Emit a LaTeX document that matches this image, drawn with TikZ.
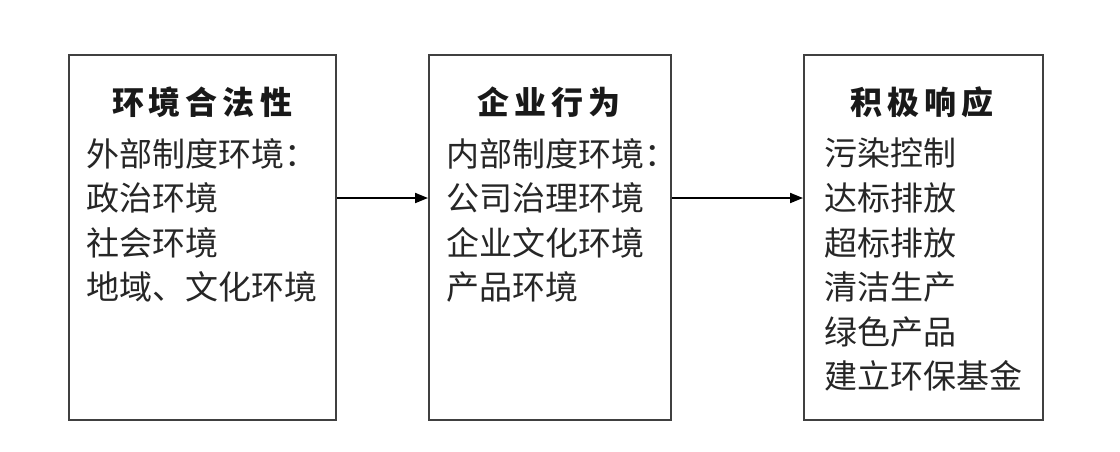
\documentclass[tikz,border=0pt]{standalone}
\usepackage{fontspec}
\newfontfamily\cjk{Noto Sans CJK SC}
\usetikzlibrary{arrows.meta}
\newcommand{\tsp}{\hspace{5pt}}
\tikzset{
  panel/.style={draw=black!75, line width=2pt, fill=white},
  ttl/.style={font=\cjk\bfseries\fontsize{32}{32}\selectfont, text=black!90, inner sep=0pt, anchor=center},
  body/.style={font=\cjk\fontsize{33}{44.6}\selectfont, text=black!85, inner sep=0pt, align=left, anchor=north west},
  flow/.style={line width=2pt, draw=black, -{Triangle[length=13pt,width=10pt]}}
}
\begin{document}
\begin{tikzpicture}[x=1pt,y=-1pt]
\useasboundingbox (0,0) rectangle (1120,451);
\node[panel, minimum width=267pt, minimum height=365pt, anchor=north west, inner sep=0pt] (b1) at (68,54) {};
\node[panel, minimum width=242pt, minimum height=365pt, anchor=north west, inner sep=0pt] (b2) at (428,54) {};
\node[panel, minimum width=239pt, minimum height=365pt, anchor=north west, inner sep=0pt] (b3) at (803,54) {};

\node[ttl] (t1) at (202,102) {环\tsp 境\tsp 合\tsp 法\tsp 性};
\node[ttl] (t2) at (549,102) {企\tsp 业\tsp 行\tsp 为};
\node[ttl] (t3) at (922,102) {积\tsp 极\tsp 响\tsp 应};

\node[body] (l1) at (86,138) {外部制度环境：\\政治环境\\社会环境\\地域、文化环境};
\node[body] (l2) at (446,138) {内部制度环境：\\公司治理环境\\企业文化环境\\产品环境};
\node[body] (l3) at (824,138) {污染控制\\达标排放\\超标排放\\清洁生产\\绿色产品\\建立环保基金};

\draw[flow] (b1.east |- 0,198) -- (b2.west |- 0,198);
\draw[flow] (b2.east |- 0,198) -- (b3.west |- 0,198);
\end{tikzpicture}
\end{document}
